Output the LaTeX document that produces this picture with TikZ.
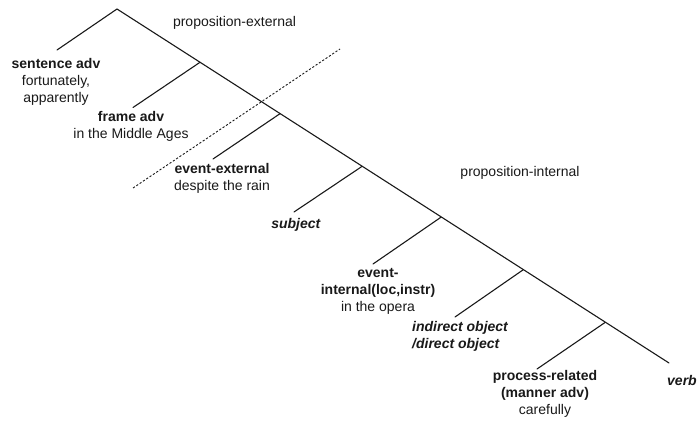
\documentclass[tikz,border=0pt]{standalone}
\usepackage{fontspec}
\setmainfont{Liberation Sans}
\begin{document}
\begin{tikzpicture}[x=1pt,y=-1pt,
  treeline/.style={line width=1.1pt, line cap=round, draw=black!90},
  divline/.style={line width=0.9pt, draw=black!90, dash pattern=on 2.2pt off 1.8pt},
  lab/.style={font=\fontsize{14}{17}\selectfont, inner sep=0pt, align=center, text=black!90}]
\useasboundingbox (0,0) rectangle (698,420);
% spine and branch points
\coordinate (top) at (117,9);
\coordinate (end) at (669,363);
\coordinate (b1) at (200,62.3);
\coordinate (b2) at (280,113.7);
\coordinate (b3) at (362,166.4);
\coordinate (b4) at (441,217.2);
\coordinate (b5) at (523,269.9);
\coordinate (b6) at (605,322.5);
% leaf ends
\coordinate (l0) at (57,50);
\coordinate (l1) at (133,107.5);
\coordinate (l2) at (213,159);
\coordinate (l3) at (294,212);
\coordinate (l4) at (373,264);
\coordinate (l5) at (455,317);
\coordinate (l6) at (537,369);
% dotted divider
\coordinate (dl) at (133,188);
\coordinate (du) at (340,49);

\draw[treeline] (l0) -- (top) -- (end);
\draw[treeline] (b1) -- (l1);
\draw[treeline] (b2) -- (l2);
\draw[treeline] (b3) -- (l3);
\draw[treeline] (b4) -- (l4);
\draw[treeline] (b5) -- (l5);
\draw[treeline] (b6) -- (l6);
\draw[divline] (dl) -- (du);

\node[lab] (pe) at (234.5,23) {proposition-external};
\node[lab] (pi) at (520,173) {proposition-internal};
\node[lab] (sa) at (56,82) {\textbf{sentence adv}\\fortunately,\\apparently};
\node[lab] (fa) at (131,126.5) {\textbf{frame adv}\\in the Middle Ages};
\node[lab] (ee) at (222,178.5) {\textbf{event-external}\\despite the rain};
\node[lab] (sj) at (296,225) {\textbf{\itshape subject}};
\node[lab] (ei) at (378,291) {\textbf{event-}\\\textbf{internal(loc,instr)}\\in the opera};
\node[lab, align=left, anchor=west] (io) at (412,336.5) {\textbf{\itshape indirect object}\\\textbf{\itshape /direct object}};
\node[lab] (pr) at (545,394) {\textbf{process-related}\\\textbf{(manner adv)}\\carefully};
\node[lab, anchor=west] (vb) at (667,380) {\textbf{\itshape verb}};
\end{tikzpicture}
\end{document}
